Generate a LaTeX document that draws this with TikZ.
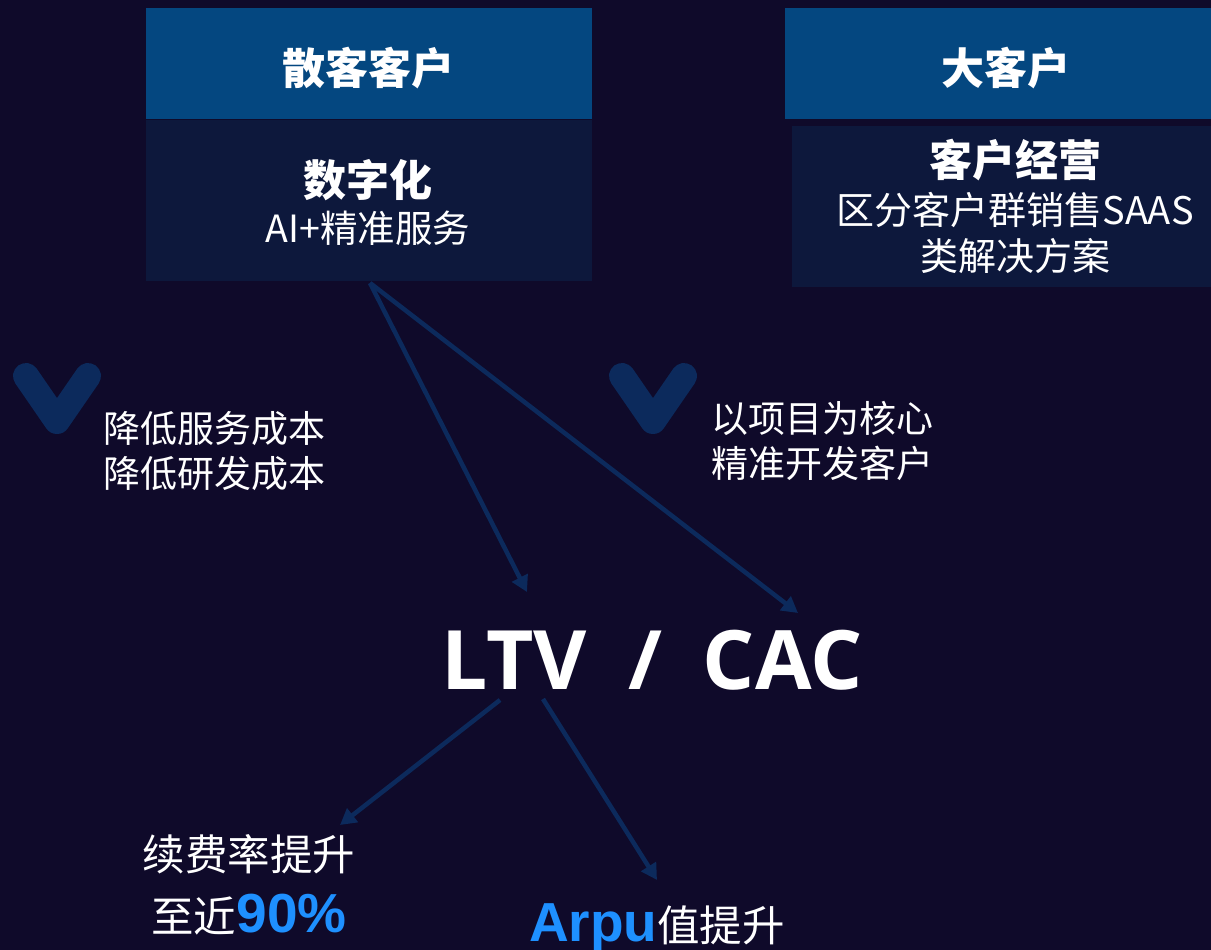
\documentclass[tikz,border=0pt]{standalone}
\usepackage{fontspec}
\setmainfont{Noto Sans CJK SC}
\newfontfamily\latinf{Open Sans}
\newfontfamily\arialf{Liberation Sans}
\usetikzlibrary{arrows.meta}
\definecolor{bgc}{HTML}{0F0A2A}
\definecolor{hdr}{HTML}{044780}
\definecolor{bdy}{HTML}{0D183C}
\definecolor{lnc}{HTML}{0C2A5C}
\definecolor{hl}{HTML}{1E90FF}
\tikzset{
  hdrbox/.style={fill=hdr,draw=none,inner sep=0pt},
  bdybox/.style={fill=bdy,draw=none,inner sep=0pt},
  ttl/.style={text=white,font=\fontsize{43}{50}\selectfont\bfseries},
  txt/.style={text=white,font=\fontsize{37.5}{46}\selectfont,align=center},
  txtr/.style={text=white,font=\fontsize{38}{46}\selectfont,align=center},
  sidetxt/.style={text=white,font=\fontsize{37}{45}\selectfont,align=left,anchor=west},
  bottxt/.style={text=white,font=\fontsize{42.5}{50}\selectfont,anchor=base,inner sep=0pt},
  hlw/.style={},
  conn/.style={draw=lnc,line width=4.5pt,-{Triangle[length=16pt,width=17pt]}},
  vee/.style={draw=lnc,line width=26pt,line cap=round,line join=round}
}
\newcommand{\hlword}[1]{{\color{hl}\arialf\bfseries\fontsize{55}{60}\selectfont #1}}
\begin{document}
\begin{tikzpicture}[x=1pt,y=-1pt]
\fill[bgc] (0,0) rectangle (1211,950);
\useasboundingbox (0,0) rectangle (1211,950);
% left column
\fill[hdrbox] (146,8) rectangle (592,119);
\fill[bdybox] (146,120) rectangle (592,281);
\node[ttl] (t1) at (368,68) {散客客户};
\node[ttl] (d1) at (368,180) {数字化};
\node[txt] (s1) at (368,228) {AI+精准服务};
% right column
\fill[hdrbox] (785,8) rectangle (1211,119);
\fill[bdybox] (792,126) rectangle (1211,287);
\node[ttl] (t2) at (1006,68) {大客户};
\node[ttl] (d2) at (1015,160) {客户经营};
\node[txtr] (s2) at (1015,233) {区分客户群销售SAAS\\类解决方案};
% vees
\draw[vee] (26,376) -- (57,421) -- (88,376);
\draw[vee] (622,376) -- (653,421) -- (684,376);
\node[sidetxt] (l1) at (100,451) {降低服务成本\\降低研发成本};
\node[sidetxt] (l2) at (708,441) {以项目为核心\\精准开发客户};
% centre
\node[text=white,font=\latinf\fontsize{82}{100}\selectfont\bfseries] (ratio) at (652,660) {LTV\hspace{0.5em}/\hspace{0.5em}CAC};
\coordinate (src) at (370,283);
\coordinate (ltvin) at (527,592);
\coordinate (cacin) at (798,613);
\coordinate (ltvout1) at (500,700);
\coordinate (ltvout2) at (543,699);
\coordinate (renew) at (340,825);
\coordinate (arpu) at (657,880);
\draw[conn] (src) -- (ltvin);
\draw[conn] (src) -- (cacin);
\draw[conn] (ltvout1) -- (renew);
\draw[conn] (ltvout2) -- (arpu);
% bottom
\node[bottxt] (b1a) at (249,870) {续费率提升};
\node[bottxt] (b1b) at (249,932) {至近\hlword{90\%}};
\node[bottxt] (b2) at (657,941) {\hlword{Arpu}值提升};
\end{tikzpicture}
\end{document}
